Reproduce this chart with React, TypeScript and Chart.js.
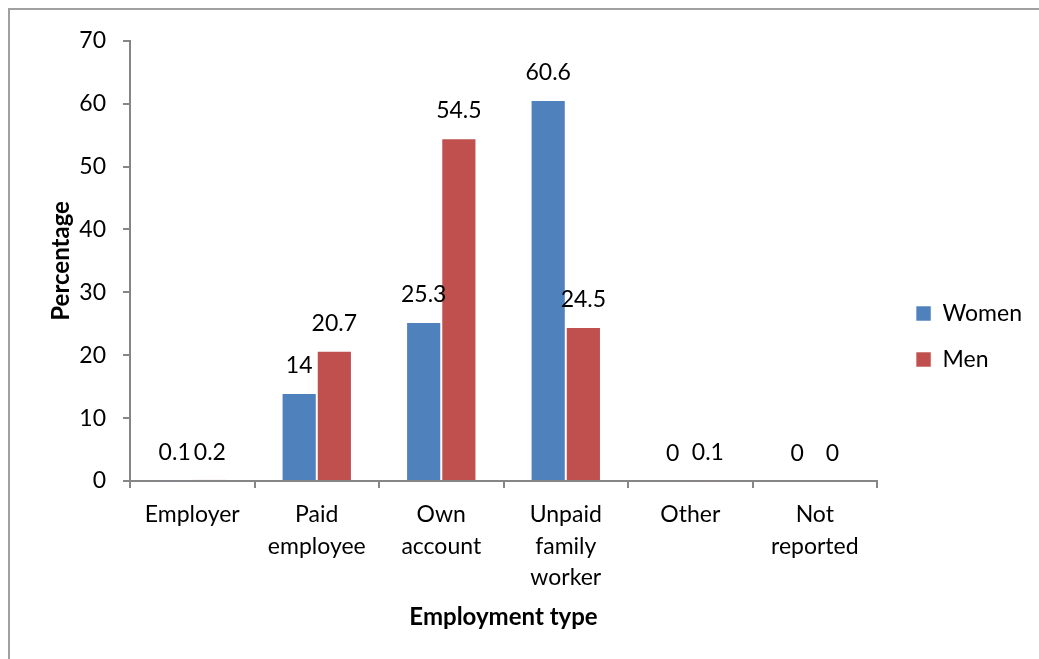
import React, { useEffect, useRef } from "react";
import { Chart, registerables } from "chart.js";

Chart.register(...registerables);

const categories: string[][] = [
  ["Employer"],
  ["Paid", "employee"],
  ["Own", "account"],
  ["Unpaid", "family", "worker"],
  ["Other"],
  ["Not", "reported"],
];
const seriesNames = ["Women", "Men"];
const womenValues = [0.1, 14, 25.3, 60.6, 0, 0];
const menValues = [0.2, 20.7, 54.5, 24.5, 0.1, 0];
const yMin = 0;
const yMax = 70;
const yStep = 10;
const xTitle = "Employment type";
const yTitle = "Percentage";

const FONT = "Lato";
const AXIS_GREY = "#868686";

const valueLabels = {
  id: "valueLabels",
  afterDatasetsDraw(chart: any) {
    const ctx = chart.ctx;
    ctx.save();
    ctx.font = `23px ${FONT}`;
    ctx.fillStyle = "#000";
    ctx.textAlign = "center";
    ctx.textBaseline = "alphabetic";
    chart.data.datasets.forEach((ds: any, i: number) => {
      const meta = chart.getDatasetMeta(i);
      meta.data.forEach((el: any, j: number) => {
        ctx.fillText(String(ds.data[j]), el.x, el.y - 20);
      });
    });
    ctx.restore();
  },
};

const legendShift = {
  id: "legendShift",
  afterLayout(chart: any) {
    const lg = chart.legend;
    if (!lg) return;
    lg.left += 16;
    lg.right += 16;
    lg.top += 2;
    lg.bottom += 2;
  },
};

export default function App() {
  const ref = useRef<HTMLCanvasElement | null>(null);
  useEffect(() => {
    if (!ref.current) return;
    const chart = new Chart(ref.current, {
      type: "bar",
      data: {
        labels: categories,
        datasets: [
          {
            label: seriesNames[0],
            data: womenValues,
            backgroundColor: "#4F81BD",
            borderColor: "rgba(255,255,255,0.55)",
            borderWidth: 1,
          },
          {
            label: seriesNames[1],
            data: menValues,
            backgroundColor: "#C0504D",
            borderColor: "rgba(255,255,255,0.55)",
            borderWidth: 1,
          },
        ],
      },
      options: {
        responsive: false,
        animation: false,
        devicePixelRatio: 1,
        datasets: { bar: { categoryPercentage: 0.565, barPercentage: 1 } },
        layout: { padding: { left: 37, top: 27, bottom: 27, right: 23 } },
        plugins: {
          legend: {
            position: "right",
            labels: {
              boxWidth: 15,
              boxHeight: 15,
              padding: 23,
              color: "#000",
              font: { family: FONT, size: 23 },
            },
          },
          tooltip: { enabled: false },
          title: { display: false },
        },
        scales: {
          x: {
            offset: true,
            grid: {
              display: true,
              drawOnChartArea: false,
              drawTicks: true,
              tickLength: 7,
              color: AXIS_GREY,
              lineWidth: 2,
              offset: true,
            },
            border: { display: true, color: AXIS_GREY, width: 2 },
            ticks: {
              color: "#000",
              padding: 11,
              maxRotation: 0,
              autoSkip: false,
              font: { family: FONT, size: 23, lineHeight: 1.37 },
            },
            title: {
              display: true,
              text: xTitle,
              color: "#000",
              padding: 0,
              font: { family: FONT, size: 24, weight: "bold", lineHeight: 1.2 },
            },
            afterFit(scale: any) {
              scale.height = 151;
            },
          },
          y: {
            min: yMin,
            max: yMax,
            ticks: {
              stepSize: yStep,
              color: "#000",
              padding: 17,
              font: { family: FONT, size: 23 },
            },
            grid: {
              display: true,
              drawOnChartArea: false,
              drawTicks: true,
              tickLength: 7,
              color: AXIS_GREY,
              lineWidth: 2,
            },
            border: { display: true, color: AXIS_GREY, width: 2 },
            title: {
              display: true,
              text: yTitle,
              color: "#000",
              padding: 0,
              font: { family: FONT, size: 24, weight: "bold", lineHeight: 1.2 },
            },
            afterFit(scale: any) {
              scale.width = 83;
            },
          },
        },
      },
      plugins: [valueLabels, legendShift],
    } as any);
    return () => chart.destroy();
  }, []);

  return (
    <div
      style={{
        position: "fixed",
        left: 8,
        top: 8,
        width: 1031,
        height: 651,
        borderLeft: "2px solid #a0a0a0",
        borderTop: "2px solid #a0a0a0",
        overflow: "hidden",
        background: "#fff",
      }}
    >
      <canvas ref={ref} width={1029} height={649} style={{ display: "block" }} />
    </div>
  );
}
